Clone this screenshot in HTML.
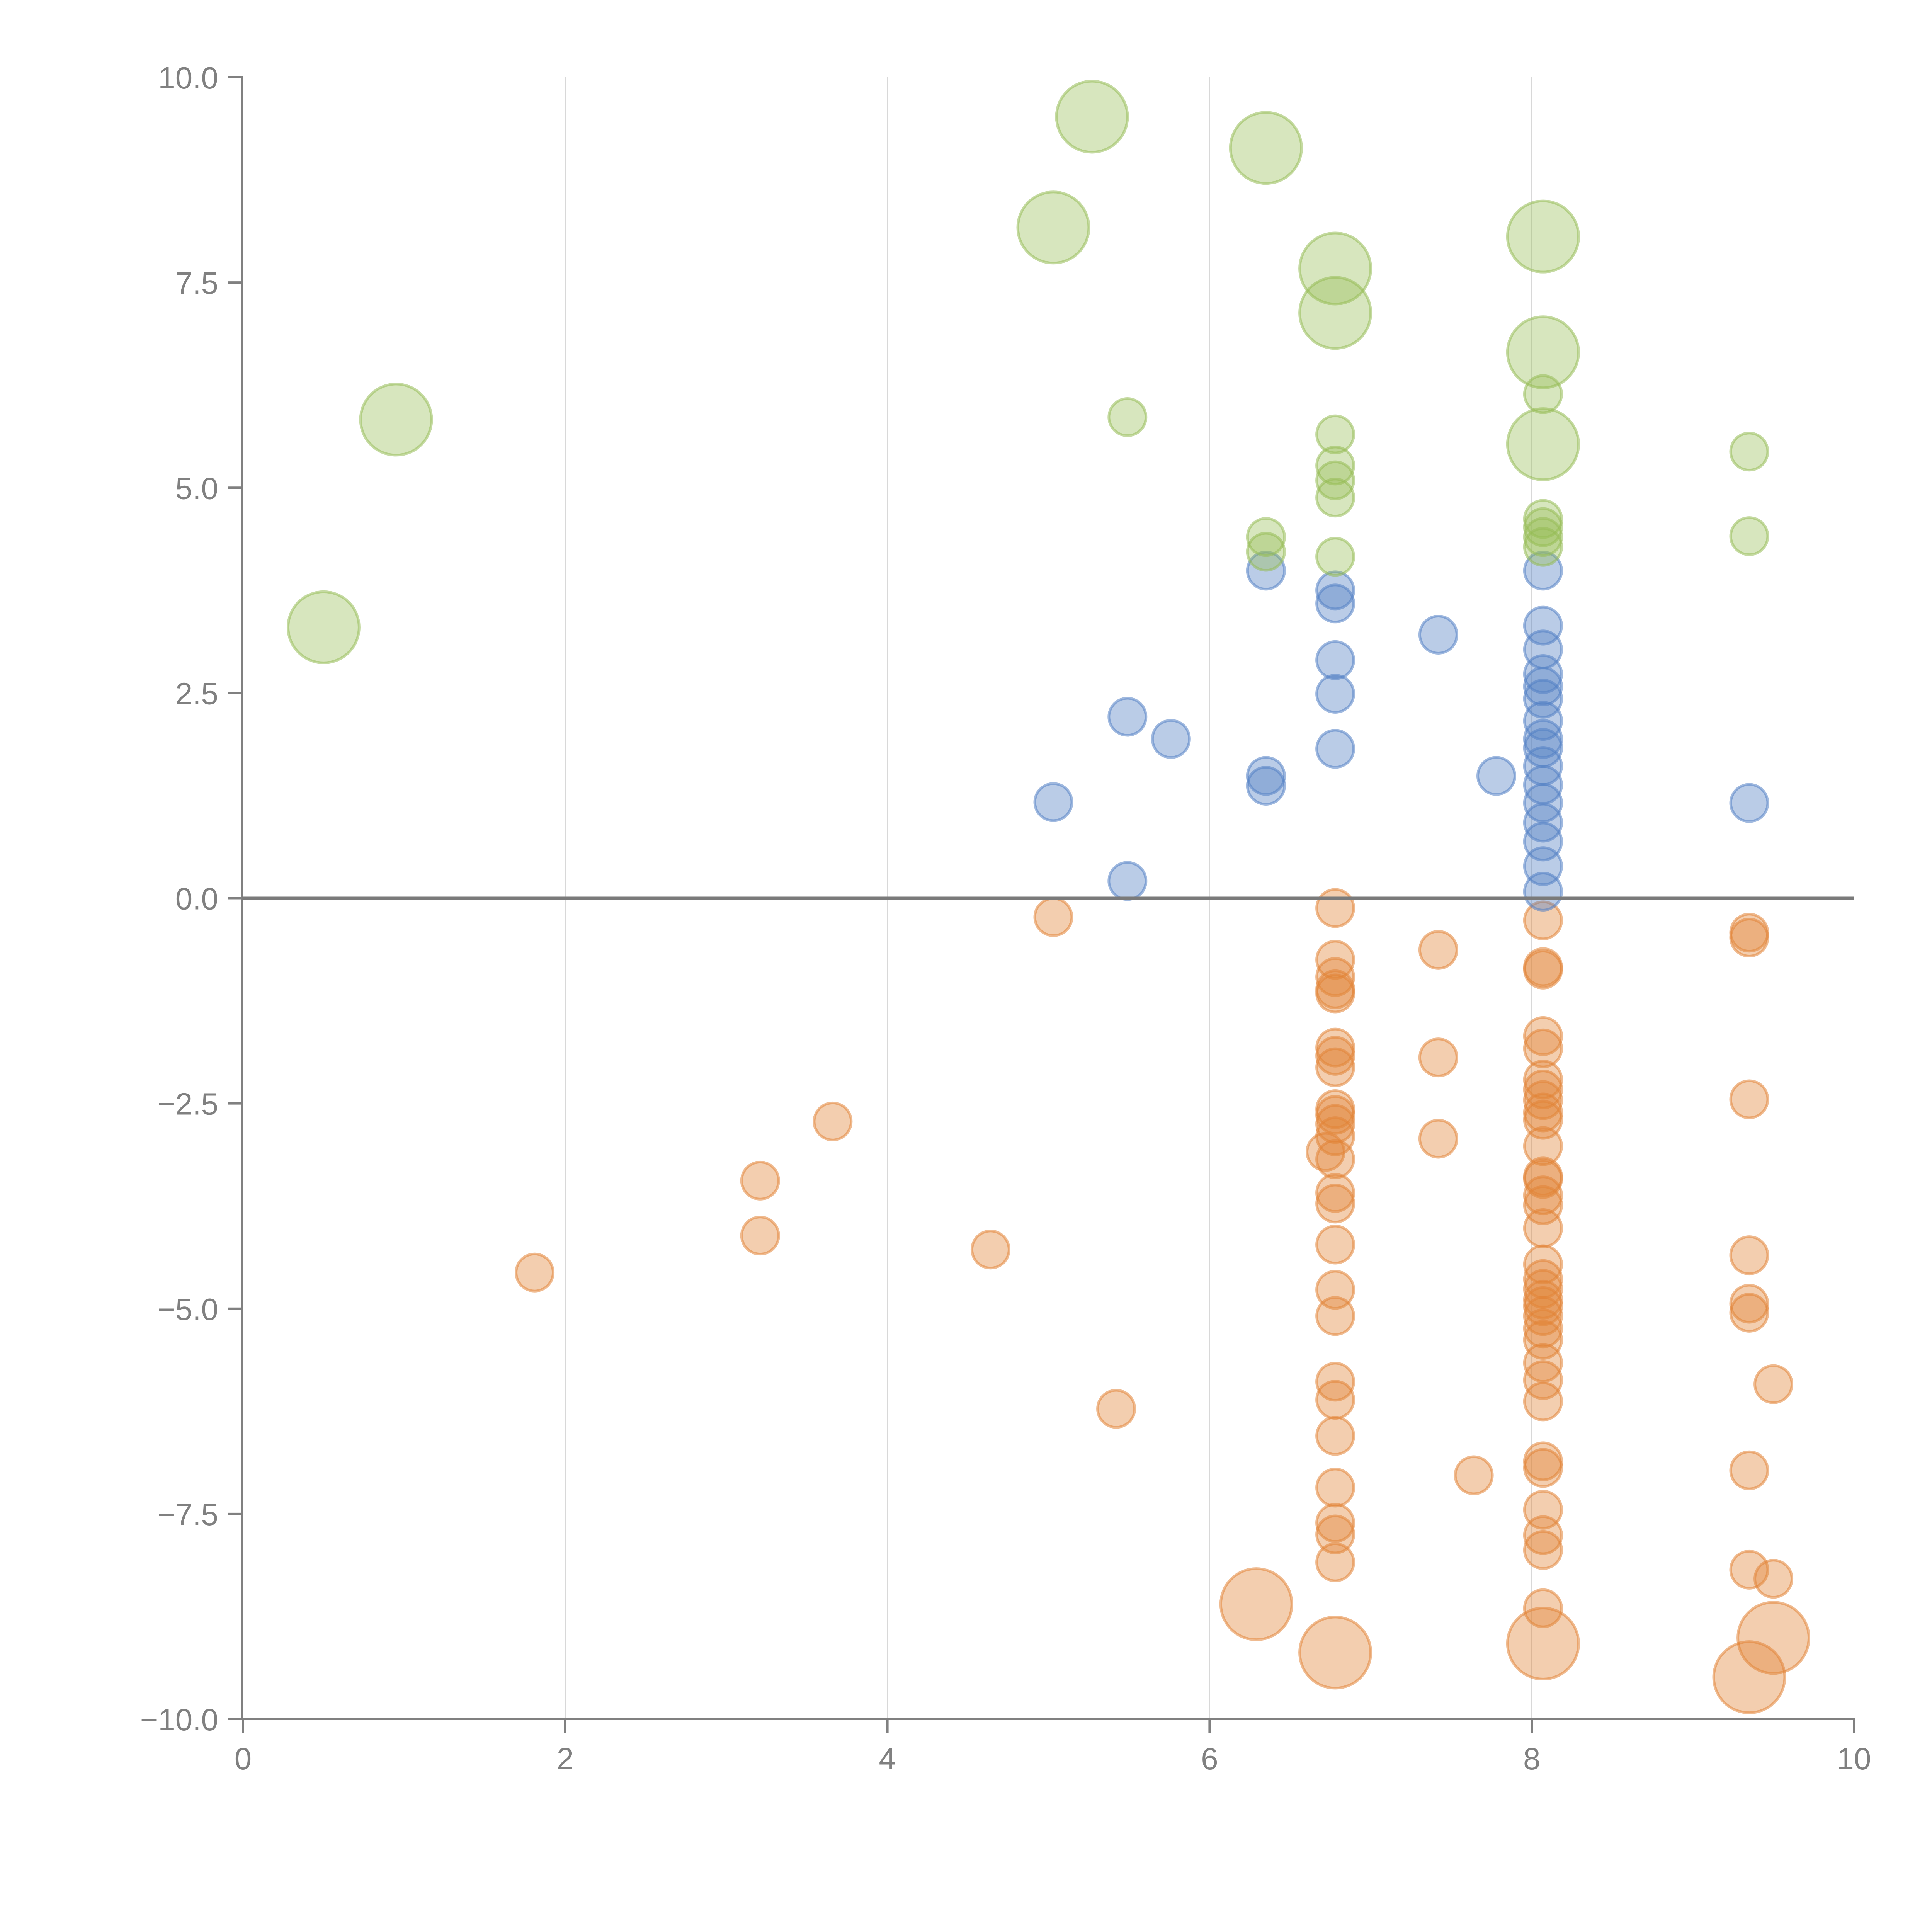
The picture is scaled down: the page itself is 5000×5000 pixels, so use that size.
<!DOCTYPE html>
<html><head><meta charset="utf-8"><style>html,body{margin:0;padding:0;background:#fff}svg{display:block}</style></head>
<body>
<svg id="chart" width="5000" height="5000" viewBox="0 0 5000 5000" xmlns="http://www.w3.org/2000/svg" font-family="Liberation Sans, sans-serif">
<g id="grid"></g>
<g id="axes"></g>
<g id="marks"></g>
</svg>
<script>
const xTicks = [0, 2, 4, 6, 8, 10];
const xTickLabels = ["0", "2", "4", "6", "8", "10"];
const yTicks = [10, 7.5, 5, 2.5, 0, -2.5, -5, -7.5, -10];
const yTickLabels = ["10.0", "7.5", "5.0", "2.5", "0.0", "\u22122.5", "\u22125.0", "\u22127.5", "\u221210.0"];

const greenX = [5.27,6.35,5.03,6.78,6.78,8.07,8.07,8.07,0.95,0.50, 5.49,6.78,6.78,6.78,6.78,6.78,6.35,6.35,8.07,8.07,8.07,8.07,8.07,9.35,9.35];
const greenY = [9.52,9.14,8.17,7.67,7.13,8.06,6.65,5.53,5.83,3.30, 5.86,5.65,5.27,5.09,4.88,4.16,4.40,4.22,6.14,4.62,4.52,4.40,4.28,5.44,4.41];
const greenSize = [2,2,2,2,2,2,2,2,2,2, 1,1,1,1,1,1,1,1,1,1,1,1,1,1,1];

const blueX = [6.35,6.78,6.78,6.78,6.78,6.78,7.42,5.49,5.76,5.03,6.35,6.35,5.49,7.78,9.35, 8.07,8.07,8.07,8.07,8.07,8.07,8.07,8.07,8.07,8.07,8.07,8.07,8.07,8.07,8.07,8.07];
const blueY = [3.99,3.75,3.59,2.90,2.49,1.82,3.21,2.21,1.94,1.17,1.49,1.37,0.21,1.49,1.16, 3.99,3.32,3.03,2.73,2.58,2.43,2.16,1.94,1.83,1.61,1.38,1.16,0.92,0.69,0.39,0.08];
const blueSize = [1,1,1,1,1,1,1,1,1,1,1,1,1,1,1,1,1,1,1,1,1,1,1,1,1,1,1,1,1,1,1];

const orangeX = [5.03,6.78,6.78,6.78,6.78,6.78,6.78,6.78,6.78,6.78,6.78,6.78,6.78,6.72,6.78,6.78,6.78,6.78,6.78,6.78,6.78,6.78,6.78,6.78,6.78,6.78,6.78,
 7.42,7.42,7.42,3.66,3.21,3.21,1.81,4.64,5.42,7.64,9.35,9.35,9.35,9.35,9.35,9.35,9.50,9.35,9.35,9.50,
 8.07,8.07,8.07,8.07,8.07,8.07,8.07,8.07,8.07,8.07,8.07,8.07,8.07,8.07,8.07,8.07,8.07,8.07,8.07,8.07,8.07,8.07,8.07,8.07,8.07,8.07,8.07,8.07,8.07,8.07,8.07,8.07,8.07,
 6.29,6.78,8.07,9.50,9.35];
const orangeY = [-0.23,-0.12,-0.75,-0.96,-1.11,-1.16,-1.82,-1.92,-2.06,-2.57,-2.64,-2.75,-2.90,-3.09,-3.18,-3.59,-3.72,-4.22,-4.77,-5.09,-5.89,-6.11,-6.55,-7.18,-7.61,-7.75,-8.09,
 -0.63,-1.94,-2.93,-2.72,-3.44,-4.11,-4.56,-4.28,-6.22,-7.03,-0.42,-0.48,-2.45,-4.35,-4.94,-5.05,-5.92,-6.97,-8.18,-8.29,
 -0.27,-0.84,-0.87,-1.68,-1.83,-2.21,-2.33,-2.46,-2.61,-2.70,-3.02,-3.39,-3.42,-3.62,-3.74,-4.02,-4.46,-4.64,-4.76,-4.89,-4.97,-5.09,-5.24,-5.38,-5.66,-5.87,-6.13,-6.86,-6.94,-7.45,-7.76,-7.94,-8.65,
 -8.60,-9.19,-9.08,-9.01,-9.49];
const orangeSize = [];
for (let i = 0; i < orangeX.length; i++) orangeSize.push(i >= orangeX.length - 5 ? 2 : 1);

const NS = "http://www.w3.org/2000/svg";
const X0 = 629, XU = 416.9, Y0 = 2324.5, YU = 212.45;
function xs(v){ return X0 + v * XU; }
function ys(v){ return Y0 - v * YU; }
function rs(s){ return s === 2 ? 92 : 48; }
function mk(tag, attrs, parent){ const e = document.createElementNS(NS, tag); for (const k in attrs) e.setAttribute(k, attrs[k]); parent.appendChild(e); return e; }

const grid = document.getElementById('grid');
const axes = document.getElementById('axes');
const marks = document.getElementById('marks');

xTicks.forEach((t, i) => {
  if (t > 0 && t < 10) {
    const g = mk('line', {x1: xs(t), x2: xs(t), y1: ys(10), y2: ys(-10), stroke: '#d8d8d8', 'stroke-width': 3}, grid);
    
    
  }
  const tk = mk('line', {x1: xs(t), x2: xs(t), y1: ys(-10), y2: ys(-10) + 35, stroke: '#808080', 'stroke-width': 6}, axes);
  
  
  const lb = mk('text', {x: xs(t), y: ys(-10) + 130, 'text-anchor': 'middle', 'font-size': 80, fill: '#808080'}, axes);
  lb.textContent = xTickLabels[i];
  
  
});
yTicks.forEach((t, i) => {
  const tk = mk('line', {x1: 590, x2: 626, y1: ys(t), y2: ys(t), stroke: '#808080', 'stroke-width': 6}, axes);
  
  
  const lb = mk('text', {x: 565, y: ys(t) + 29, 'text-anchor': 'end', 'font-size': 80, fill: '#808080'}, axes);
  lb.textContent = yTickLabels[i];
  
  
});
const ya = mk('line', {x1: 626, x2: 626, y1: ys(10) - 3, y2: ys(-10) + 3, stroke: '#808080', 'stroke-width': 6}, axes);


const xa = mk('line', {x1: 623, x2: xs(10) + 3, y1: ys(-10), y2: ys(-10), stroke: '#808080', 'stroke-width': 6}, axes);



const series = [
  {name: 'orange', xsArr: orangeX, ysArr: orangeY, sz: orangeSize, fill: 'rgba(226,132,55,0.40)', stroke: 'rgba(226,132,55,0.55)'},
  {name: 'blue', xsArr: blueX, ysArr: blueY, sz: blueSize, fill: 'rgba(82,128,196,0.40)', stroke: 'rgba(82,128,196,0.55)'},
  {name: 'green', xsArr: greenX, ysArr: greenY, sz: greenSize, fill: 'rgba(150,188,85,0.38)', stroke: 'rgba(150,188,85,0.55)'}
];
series.forEach(s => {
  for (let i = 0; i < s.xsArr.length; i++) {
    const c = mk('circle', {cx: xs(s.xsArr[i]), cy: ys(s.ysArr[i]), r: rs(s.sz[i]), fill: s.fill, stroke: s.stroke, 'stroke-width': 7}, marks);
    
    
  }
});
const zl = mk('line', {x1: 626, x2: xs(10), y1: ys(0), y2: ys(0), stroke: '#7a7a7a', 'stroke-width': 8}, marks);


</script>
</body></html>
